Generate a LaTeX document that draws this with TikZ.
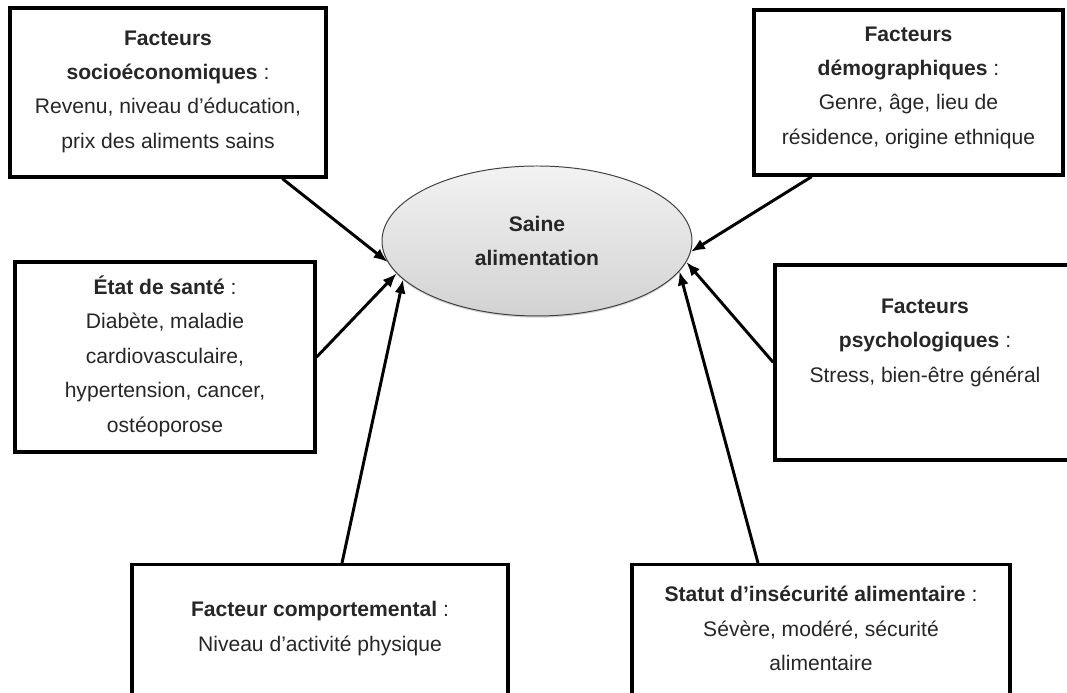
\documentclass[tikz,border=0pt]{standalone}
\usepackage{fontspec}
\setmainfont{Liberation Sans}
\usetikzlibrary{arrows.meta,positioning,shapes.geometric,shadows}

\tikzset{
  boite/.style={rectangle,draw,line width=2.4pt},
  texte/.style={align=center,inner sep=0pt,text=black!85,font=\fontsize{15}{24.5}\selectfont},
  fleche/.style={-{Latex[length=10pt,width=8pt]},line width=2.1pt}
}

\begin{document}
\begin{tikzpicture}
  \useasboundingbox (0,0) rectangle (26.675,17.325);
  \clip (0,0) rectangle (26.675,17.325);

  % centre
  \node[ellipse,draw=black!75,line width=0.7pt,minimum width=7.75cm,minimum height=3.75cm,
        top color=gray!10,bottom color=gray!35,
        drop shadow={shadow xshift=0pt,shadow yshift=-1.2pt,opacity=0.35},
        texte,font=\bfseries\fontsize{15}{24}\selectfont] (saine) at (13.425,11.3) {Saine\\alimentation};

  % boites
  \node[boite,minimum width=7.9cm,minimum height=4.225cm] (socio) at (4.2,15.0125) {};
  \node[texte,below=0.6cm of socio.north] (tsocio)
    {\textbf{Facteurs}\\\textbf{socioéconomiques} :\\Revenu, niveau d’éducation,\\prix des aliments sains};

  \node[boite,minimum width=7.725cm,minimum height=4.125cm] (demo) at (22.7125,15.0125) {};
  \node[texte,below=0.45cm of demo.north] (tdemo)
    {\textbf{Facteurs}\\\textbf{démographiques} :\\Genre, âge, lieu de\\résidence, origine ethnique};

  \node[boite,minimum width=7.5cm,minimum height=4.75cm] (sante) at (4.125,8.4) {};
  \node[texte,below=0.375cm of sante.north] (tsante)
    {\textbf{État de santé} :\\Diabète, maladie\\cardiovasculaire,\\hypertension, cancer,\\ostéoporose};

  \node[boite,minimum width=7.5cm,minimum height=4.875cm] (psycho) at (23.125,8.2625) {};
  \node[texte,below=0.88cm of psycho.north] (tpsycho)
    {\textbf{Facteurs}\\\textbf{psychologiques} :\\Stress, bien-être général};

  \node[boite,anchor=north,minimum width=9.4cm,minimum height=5cm] (comport) at (8.0,3.25) {};
  \node[texte,below=0.95cm of comport.north] (tcomport)
    {\textbf{Facteur comportemental} :\\Niveau d’activité physique};

  \node[boite,anchor=north,minimum width=9.45cm,minimum height=5cm] (insec) at (20.525,3.25) {};
  \node[texte,below=0.575cm of insec.north] (tinsec)
    {\textbf{Statut d’insécurité alimentaire} :\\Sévère, modéré, sécurité\\alimentaire};

  % fleches
  \draw[fleche] (socio.-37) -- (saine.188);
  \draw[fleche] (sante.east) -- (saine.193);
  \draw[fleche] ([xshift=0.55cm]comport.north) -- (saine.196);
  \draw[fleche] (demo.221) -- (saine.356);
  \draw[fleche] (psycho.west) -- (saine.352);
  \draw[fleche] ([xshift=-1.575cm]insec.north) -- (saine.348);
\end{tikzpicture}
\end{document}
